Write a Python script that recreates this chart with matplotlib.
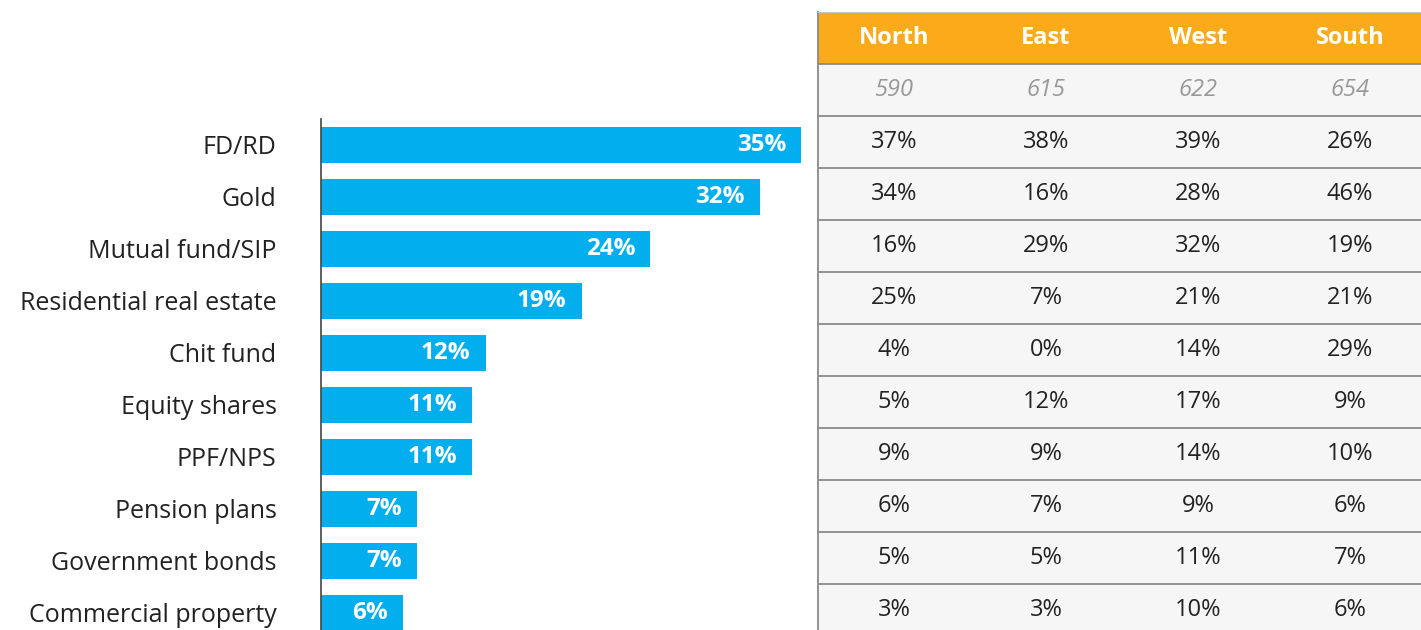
import matplotlib.pyplot as plt
from matplotlib.patches import Rectangle

plt.rcParams['font.family'] = ['Open Sans', 'DejaVu Sans']

categories = ['FD/RD', 'Gold', 'Mutual fund/SIP', 'Residential real estate', 'Chit fund',
              'Equity shares', 'PPF/NPS', 'Pension plans', 'Government bonds',
              'Commercial property']
overall = [35, 32, 24, 19, 12, 11, 11, 7, 7, 6]

regions = ['North', 'East', 'West', 'South']
sample_sizes = [590, 615, 622, 654]
north = [37, 34, 16, 25, 4, 5, 9, 6, 5, 3]
east = [38, 16, 29, 7, 0, 12, 9, 7, 5, 3]
west = [39, 28, 32, 21, 14, 17, 14, 9, 11, 10]
south = [26, 46, 19, 21, 29, 9, 10, 6, 7, 6]

BLUE = '#03AEEF'
ORANGE = '#FBAA19'
W, H = 1421, 630

fig = plt.figure(figsize=(W / 100, H / 100), dpi=100)


def px_axes(x0, y0, x1, y1):
    # axes placed by pixel box (top-left origin)
    return fig.add_axes([x0 / W, 1 - y1 / H, (x1 - x0) / W, (y1 - y0) / H])


# bar chart of overall shares
ax = px_axes(321, 119, 801, 639)
ypos = range(len(categories))
bars = ax.barh(ypos, overall, height=0.71, color=BLUE, clip_on=False)
ax.set_xlim(0, max(overall))
ax.set_ylim(len(categories) - 0.5, -0.5)
ax.set_yticks(list(ypos))
ax.set_yticklabels(categories, fontsize=18, color='#222222')
ax.tick_params(axis='y', length=0, pad=32)
ax.set_xticks([])
for side in ['top', 'right', 'bottom']:
    ax.spines[side].set_visible(False)
ax.spines['left'].set_color('#444444')
ax.spines['left'].set_linewidth(1.2)
ax.patch.set_alpha(0)
for bar, v in zip(bars, overall):
    ax.annotate(f'{v}%', (bar.get_width(), bar.get_y() + bar.get_height() / 2),
                xytext=(-15, 0), textcoords='offset pixels', ha='right', va='center',
                color='white', fontsize=17.5, fontweight='bold')

# regional table
tab = px_axes(818, 12, 818 + 4 * 152, 12 + 12 * 52)
n_rows = len(categories) + 2
tab.set_xlim(0, len(regions))
tab.set_ylim(n_rows, 0)
tab.axis('off')
tab.add_patch(Rectangle((0, 0), len(regions), 1, color=ORANGE, lw=0, clip_on=False))
tab.add_patch(Rectangle((0, 1), len(regions), n_rows - 1, color='#F6F6F6', lw=0,
                        clip_on=False))
for r in range(1, n_rows):
    tab.plot([0, len(regions)], [r, r], color='#8A8A8A', lw=1.3, clip_on=False)
tab.plot([0, 0], [0, n_rows], color='#8A8A8A', lw=1.3, clip_on=False)
tab.plot([0, len(regions)], [0, 0], color='#C8C8C8', lw=0.8, clip_on=False)

columns = [north, east, west, south]
for c, (name, n, vals) in enumerate(zip(regions, sample_sizes, columns)):
    tab.text(c + 0.5, 0.5, name, ha='center', va='center', color='white',
             fontsize=17, fontweight='bold')
    tab.text(c + 0.5, 1.5, str(n), ha='center', va='center', color='#999999',
             fontsize=17, style='italic')
    for r, v in enumerate(vals):
        tab.text(c + 0.5, r + 2.5, f'{v}%', ha='center', va='center',
                 color='#222222', fontsize=17)

fig.savefig('out.png', dpi=100, facecolor='white')
